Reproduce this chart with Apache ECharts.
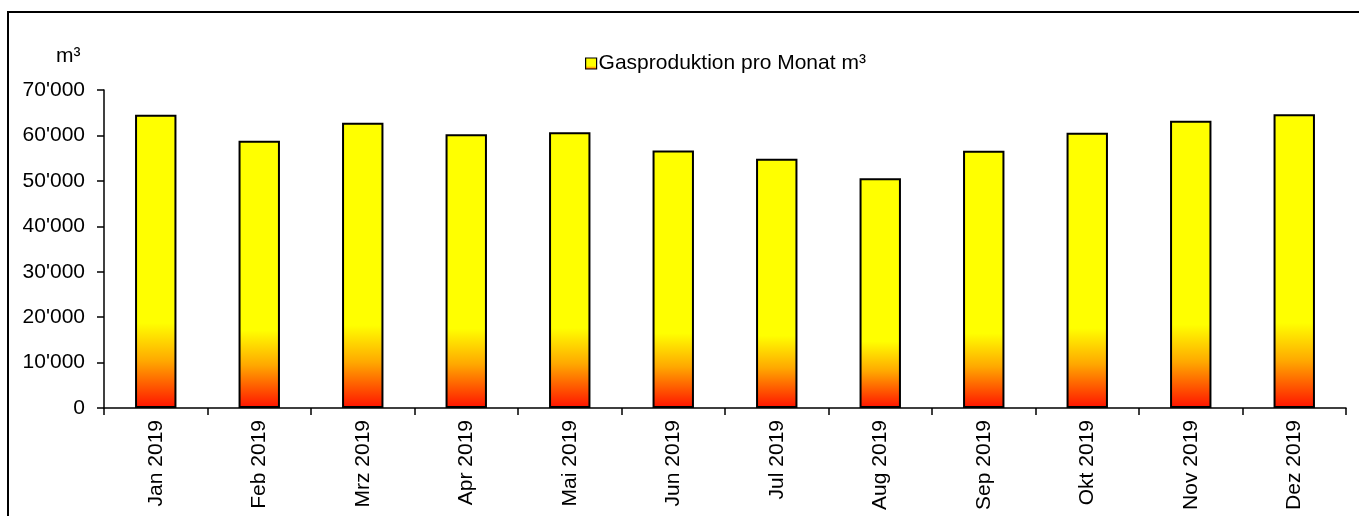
<!DOCTYPE html>
<html>
<head>
<meta charset="utf-8">
<script src="https://cdn.jsdelivr.net/npm/echarts@6/dist/echarts.min.js"></script>
<style>
  html, body { margin: 0; padding: 0; background: #ffffff; }
  #chart { width: 1359px; height: 516px; }
</style>
</head>
<body>
<div id="chart"></div>
<script>
// Monthly gas production 2019 (m³)
const months = ['Jan 2019', 'Feb 2019', 'Mrz 2019', 'Apr 2019', 'Mai 2019', 'Jun 2019',
                'Jul 2019', 'Aug 2019', 'Sep 2019', 'Okt 2019', 'Nov 2019', 'Dez 2019'];
const gasProduction = [64560, 58840, 62800, 60250, 60690, 56700,
                       54880, 50560, 56640, 60600, 63240, 64650];
const seriesName = 'Gasproduktion pro Monat m³';
const unitLabel = 'm³';

const FONT = '"Liberation Sans", Arial, sans-serif';
const FONT_SIZE = 21;

// Swiss thousands separator: 70000 -> 70'000
function swissNumber(v) {
  return String(v).replace(/\B(?=(\d{3})+(?!\d))/g, "'");
}

const chart = echarts.init(document.getElementById('chart'), null, { renderer: 'canvas' });

chart.setOption({
  animation: false,
  backgroundColor: '#ffffff',
  textStyle: { fontFamily: FONT },
  graphic: [
    {
      type: 'rect',
      shape: { x: 8, y: 12, width: 1400, height: 600 },
      style: { fill: 'none', stroke: '#000', lineWidth: 2 },
      silent: true
    },
    {
      type: 'text',
      left: 56,
      top: 46,
      style: { text: unitLabel, font: FONT_SIZE + 'px ' + FONT, fill: '#000' }
    }
  ],
  legend: {
    left: 580,
    top: 48,
    itemWidth: 11,
    itemHeight: 11,
    icon: 'rect',
    itemStyle: { borderColor: '#000', borderWidth: 1.2 },
    textStyle: { fontFamily: FONT, fontSize: FONT_SIZE, color: '#000', padding: [0, 0, 0, -3] },
    data: [seriesName]
  },
  grid: {
    left: 104,
    right: 13,
    top: 90,
    bottom: 108,
    containLabel: false
  },
  xAxis: {
    type: 'category',
    data: months,
    axisLine: { lineStyle: { color: '#000', width: 1.5 } },
    axisTick: { show: true, length: 7, lineStyle: { color: '#000', width: 1.5 } },
    axisLabel: {
      rotate: 90,
      margin: 12,
      fontFamily: FONT,
      fontSize: FONT_SIZE,
      color: '#000'
    },
    splitLine: { show: false }
  },
  yAxis: {
    type: 'value',
    min: 0,
    max: 70000,
    interval: 10000,
    axisLine: { show: true, lineStyle: { color: '#000', width: 1.5 } },
    axisTick: { show: true, length: 7, lineStyle: { color: '#000', width: 1.5 } },
    axisLabel: {
      margin: 19,
      fontFamily: FONT,
      fontSize: FONT_SIZE,
      color: '#000',
      formatter: swissNumber
    },
    splitLine: { show: false }
  },
  series: [
    {
      name: seriesName,
      type: 'bar',
      data: gasProduction,
      barCategoryGap: '60%',
      itemStyle: {
        borderColor: '#000',
        borderWidth: 2,
        color: new echarts.graphic.LinearGradient(0, 0, 0, 1, [
          { offset: 0, color: '#FFFF00' },
          { offset: 0.71, color: '#FFFF00' },
          { offset: 0.84, color: '#FFA800' },
          { offset: 1, color: '#FF1200' }
        ])
      }
    }
  ]
});
</script>
</body>
</html>
